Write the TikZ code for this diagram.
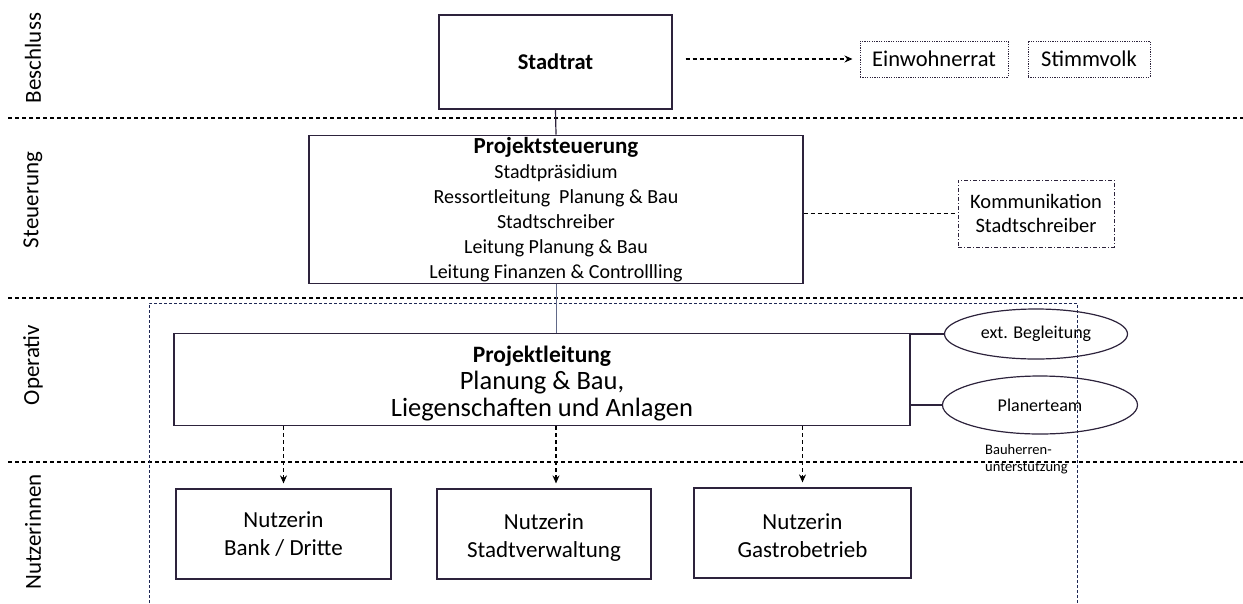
\documentclass[tikz,border=0pt]{standalone}
\usepackage{fontspec}
\setmainfont{Carlito}
\usepackage{tikz}
\usetikzlibrary{calc, positioning, shapes.geometric, arrows.meta}

\definecolor{framecol}{RGB}{45,35,60}
\definecolor{rahmencol}{RGB}{30,40,85}

\tikzset{
	box/.style={draw=framecol, line width=1.2pt, align=center, inner sep=2pt},
	dotbox/.style={box, line width=1pt, dash pattern=on 1.2pt off 1.2pt},
	dashdotbox/.style={box, line width=1pt, dash pattern=on 4pt off 2pt on 1pt off 2pt},
	oval/.style={draw=framecol, line width=1.2pt, ellipse, inner sep=0pt},
	lane/.style={rotate=90, font=\fontsize{23}{27}\selectfont},
	sectionline/.style={line width=1.1pt, dash pattern=on 4pt off 3pt},
	dasharrow/.style={line width=1.1pt, dash pattern=on 4pt off 3pt, -{Stealth[length=8pt,width=7pt]}},
}

\begin{document}
\begin{tikzpicture}[x=1pt, y=-1pt]
	\def\W{1243};
	\def\H{603};

	\useasboundingbox (0,0) rectangle (\W,\H);

	% Ebenen
	\foreach \y in {118,298,462}
	{
		\draw[sectionline] (8,\y) -- (\W,\y);
	}
	\foreach \y/\t in {58/Beschluss, 200/Steuerung, 365/Operativ, 532/Nutzerinnen}
	{
		\node[lane] (lane-\t) at (33,\y) {\t};
	}

	% Bauherrenunterstuetzung
	\draw[rahmencol, line width=1pt, dash pattern=on 3pt off 2pt]
		(149,\H) -- (149,303) -- (1077,303) -- (1077,\H);

	% Beschluss
	\node[box, minimum width=233, minimum height=94, font=\fontsize{22.5}{27}\selectfont\bfseries]
		(stadtrat) at (555.5,62) {Stadtrat};
	\node[dotbox, minimum width=148, minimum height=36, font=\fontsize{22.5}{27}\selectfont]
		(einwohnerrat) at (934,59) {Einwohnerrat};
	\node[dotbox, minimum width=122, minimum height=36, font=\fontsize{22.5}{27}\selectfont]
		(stimmvolk) at (1089,59) {Stimmvolk};

	% Steuerung
	\node[box, minimum width=494, minimum height=145, font=\fontsize{20}{25}\selectfont]
		(steuerung) at (556,209.5)
		{{\fontsize{23}{25}\selectfont\bfseries Projektsteuerung}\\
		Stadtpräsidium\\
		Ressortleitung~ Planung \& Bau\\
		Stadtschreiber\\
		Leitung Planung \& Bau\\
		Leitung Finanzen \& Controllling};
	\node[dashdotbox, minimum width=156, minimum height=67, font=\fontsize{20.5}{24}\selectfont]
		(kommunikation) at (1036,213.5) {Kommunikation\\Stadtschreiber};

	% Operativ
	\node[box, minimum width=736, minimum height=92, font=\fontsize{26.5}{27}\selectfont]
		(leitung) at (542,379.5)
		{\rule{0pt}{25pt}{\fontsize{23.5}{27}\selectfont\bfseries Projektleitung}\\
		Planung \& Bau,\\
		Liegenschaften und Anlagen};
	\node[oval, minimum width=183, minimum height=50, font=\fontsize{18}{22}\selectfont]
		(begleitung) at (1036,334) {ext. Begleitung};
	\node[oval, minimum width=195, minimum height=58, font=\fontsize{18}{22}\selectfont]
		(planerteam) at (1040,405) {Planerteam};
	\node[anchor=west, align=left, inner sep=0pt, font=\fontsize{14.5}{17}\selectfont]
		(bauherren) at (985,459) {Bauherren-\\unterstützung};

	% Nutzerinnen
	\begin{scope}[every node/.style={box, minimum height=90, font=\fontsize{23}{28}\selectfont}]
		\node[minimum width=215] (bank) at (283.5,534) {Nutzerin\\Bank / Dritte};
		\node[minimum width=214] (verwaltung) at (544,534) {\rule{0pt}{22pt}Nutzerin\\Stadtverwaltung};
		\node[minimum width=217] (gastro) at (802.5,533) {\rule{0pt}{22pt}Nutzerin\\Gastrobetrieb};
	\end{scope}

	% Verbindungen
	\draw[framecol, line width=1.2pt] (stadtrat.south) -- (steuerung.north);
	\draw[rahmencol!70, line width=1pt] (steuerung.south) -- (steuerung.south |- leitung.north);
	\draw[dasharrow, shorten <=13pt, shorten >=7pt]
		(stadtrat.east |- einwohnerrat.west) -- (einwohnerrat.west);
	\draw[line width=1.1pt, dash pattern=on 4pt off 3pt]
		(steuerung.east |- kommunikation.west) -- (kommunikation.west);
	\draw[framecol, line width=1.2pt] (leitung.east |- begleitung.west) -- (begleitung.west);
	\draw[framecol, line width=1.2pt] (leitung.east |- planerteam.west) -- (planerteam.west);

	\draw[dasharrow, shorten >=5pt] (leitung.south -| bank.north) -- (bank.north);
	\draw[dasharrow, shorten >=5pt] (leitung.south -| steuerung.south) -- (verwaltung.north -| steuerung.south);
	\draw[dasharrow, shorten >=5pt] (leitung.south -| gastro.north) -- (gastro.north);
\end{tikzpicture}
\end{document}
